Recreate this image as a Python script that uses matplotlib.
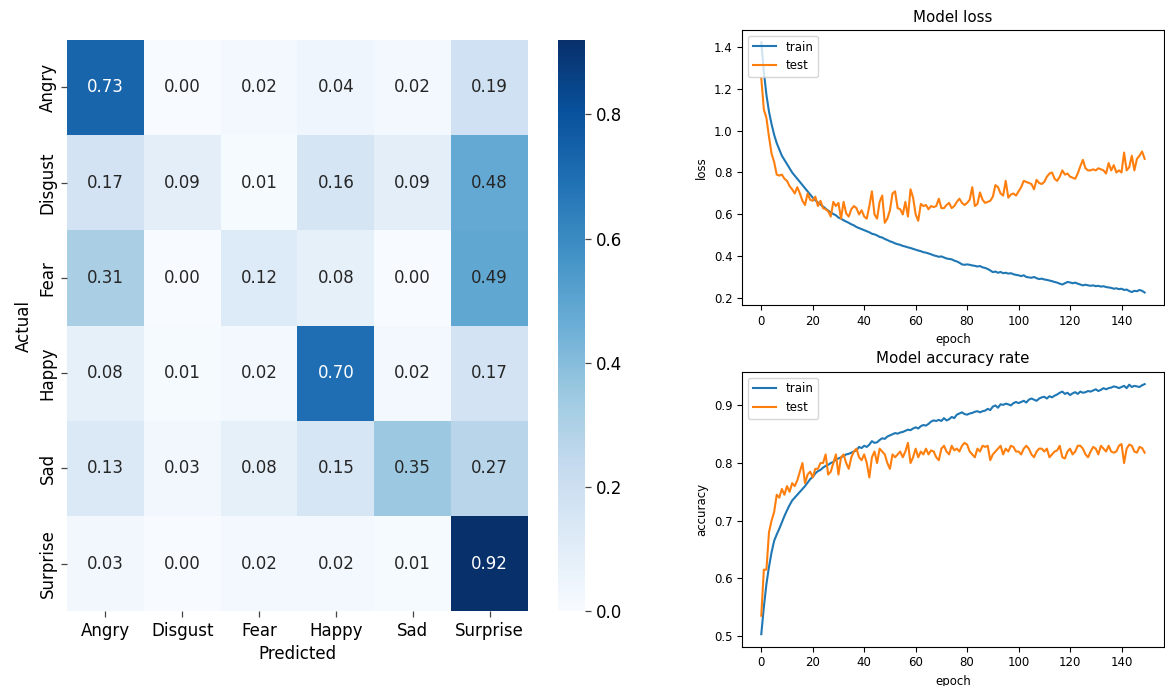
import numpy as np
import matplotlib
matplotlib.use('Agg')
import matplotlib.pyplot as plt
import seaborn as sns

classes = ['Angry', 'Disgust', 'Fear', 'Happy', 'Sad', 'Surprise']
conf = np.array([
    [0.73, 0.00, 0.02, 0.04, 0.02, 0.19],
    [0.17, 0.09, 0.01, 0.16, 0.09, 0.48],
    [0.31, 0.00, 0.12, 0.08, 0.00, 0.49],
    [0.08, 0.01, 0.02, 0.70, 0.02, 0.17],
    [0.13, 0.03, 0.08, 0.15, 0.35, 0.27],
    [0.03, 0.00, 0.02, 0.02, 0.01, 0.92],
])

# history values, one per epoch
loss_train = [
    1.42, 1.28, 1.17, 1.09, 1.03, 0.98, 0.94, 0.91, 0.88, 0.86,
    0.84, 0.82, 0.80, 0.785, 0.77, 0.755, 0.74, 0.725, 0.71, 0.695,
    0.68, 0.668, 0.657, 0.648, 0.638, 0.628, 0.618, 0.61, 0.602, 0.596,
    0.585, 0.58, 0.572, 0.566, 0.56, 0.553, 0.548, 0.54, 0.535, 0.53,
    0.525, 0.52, 0.515, 0.508, 0.505, 0.50, 0.493, 0.49, 0.483, 0.478,
    0.472, 0.468, 0.462, 0.458, 0.455, 0.45, 0.447, 0.443, 0.44, 0.436,
    0.432, 0.428, 0.425, 0.42, 0.418, 0.414, 0.41, 0.405, 0.402, 0.398,
    0.40, 0.395, 0.39, 0.388, 0.386, 0.38, 0.376, 0.37, 0.362, 0.36,
    0.362, 0.36, 0.357, 0.355, 0.352, 0.354, 0.348, 0.345, 0.34, 0.333,
    0.325, 0.328, 0.322, 0.326, 0.32, 0.322, 0.318, 0.32, 0.315, 0.312,
    0.31, 0.306, 0.31, 0.302, 0.30, 0.298, 0.302, 0.296, 0.292, 0.294,
    0.29, 0.288, 0.285, 0.282, 0.278, 0.275, 0.27, 0.266, 0.272, 0.278,
    0.276, 0.272, 0.275, 0.27, 0.266, 0.262, 0.265, 0.262, 0.26, 0.262,
    0.258, 0.26, 0.256, 0.258, 0.254, 0.252, 0.25, 0.246, 0.248, 0.244,
    0.246, 0.24, 0.242, 0.235, 0.23, 0.236, 0.234, 0.24, 0.236, 0.228,
]
loss_test = [
    1.25, 1.10, 1.06, 0.97, 0.89, 0.85, 0.79, 0.785, 0.79, 0.77,
    0.76, 0.735, 0.72, 0.70, 0.73, 0.70, 0.665, 0.645, 0.70, 0.67,
    0.665, 0.685, 0.64, 0.665, 0.63, 0.625, 0.615, 0.59, 0.66, 0.64,
    0.655, 0.58, 0.66, 0.605, 0.59, 0.625, 0.64, 0.63, 0.60, 0.62,
    0.59, 0.58, 0.64, 0.71, 0.60, 0.58, 0.66, 0.69, 0.56, 0.58,
    0.62, 0.70, 0.71, 0.63, 0.625, 0.60, 0.66, 0.59, 0.72, 0.68,
    0.60, 0.57, 0.65, 0.64, 0.645, 0.625, 0.64, 0.635, 0.64, 0.675,
    0.63, 0.63, 0.645, 0.655, 0.63, 0.64, 0.66, 0.675, 0.655, 0.645,
    0.655, 0.67, 0.73, 0.64, 0.65, 0.705, 0.67, 0.655, 0.66, 0.665,
    0.685, 0.74, 0.73, 0.70, 0.69, 0.76, 0.68, 0.695, 0.70, 0.69,
    0.71, 0.73, 0.76, 0.755, 0.75, 0.745, 0.72, 0.765, 0.75, 0.745,
    0.755, 0.78, 0.795, 0.80, 0.77, 0.76, 0.78, 0.81, 0.79, 0.795,
    0.78, 0.775, 0.77, 0.795, 0.83, 0.86, 0.82, 0.81, 0.81, 0.815,
    0.81, 0.82, 0.815, 0.81, 0.795, 0.845, 0.81, 0.835, 0.80, 0.81,
    0.80, 0.895, 0.81, 0.825, 0.88, 0.81, 0.865, 0.88, 0.90, 0.865,
]
acc_train = [
    0.503, 0.55, 0.59, 0.62, 0.645, 0.665, 0.676, 0.686, 0.697, 0.708,
    0.718, 0.727, 0.735, 0.74, 0.745, 0.75, 0.755, 0.76, 0.766, 0.772,
    0.776, 0.782, 0.786, 0.788, 0.792, 0.795, 0.797, 0.80, 0.802, 0.806,
    0.808, 0.81, 0.812, 0.815, 0.816, 0.818, 0.82, 0.822, 0.828, 0.826,
    0.83, 0.828, 0.832, 0.838, 0.835, 0.836, 0.84, 0.843, 0.842, 0.846,
    0.848, 0.85, 0.852, 0.851, 0.853, 0.854, 0.856, 0.858, 0.857, 0.86,
    0.862, 0.86, 0.864, 0.866, 0.865, 0.868, 0.872, 0.874, 0.873, 0.875,
    0.873, 0.878, 0.874, 0.876, 0.88, 0.878, 0.884, 0.886, 0.888, 0.885,
    0.884, 0.886, 0.887, 0.889, 0.89, 0.888, 0.89, 0.891, 0.894, 0.892,
    0.898, 0.90, 0.896, 0.902, 0.901, 0.903, 0.902, 0.90, 0.904, 0.906,
    0.904, 0.906, 0.908, 0.905, 0.91, 0.912, 0.91, 0.908, 0.912, 0.914,
    0.915, 0.912, 0.916, 0.914, 0.917, 0.919, 0.922, 0.924, 0.92, 0.922,
    0.918, 0.921, 0.923, 0.92, 0.924, 0.922, 0.923, 0.925, 0.924, 0.926,
    0.928, 0.925, 0.927, 0.93, 0.928, 0.93, 0.931, 0.933, 0.932, 0.93,
    0.932, 0.934, 0.93, 0.936, 0.932, 0.934, 0.933, 0.932, 0.935, 0.937,
]
acc_test = [
    0.535, 0.615, 0.615, 0.68, 0.70, 0.715, 0.745, 0.74, 0.755, 0.745,
    0.76, 0.75, 0.765, 0.76, 0.77, 0.785, 0.80, 0.765, 0.78, 0.785,
    0.775, 0.79, 0.79, 0.80, 0.80, 0.815, 0.78, 0.785, 0.80, 0.815,
    0.78, 0.81, 0.815, 0.80, 0.79, 0.81, 0.82, 0.825, 0.81, 0.805,
    0.815, 0.80, 0.775, 0.81, 0.82, 0.80, 0.825, 0.82, 0.815, 0.80,
    0.79, 0.815, 0.81, 0.815, 0.82, 0.81, 0.82, 0.835, 0.80, 0.81,
    0.825, 0.81, 0.82, 0.815, 0.825, 0.815, 0.822, 0.82, 0.81, 0.805,
    0.825, 0.83, 0.82, 0.815, 0.83, 0.822, 0.825, 0.82, 0.83, 0.835,
    0.832, 0.82, 0.815, 0.81, 0.825, 0.82, 0.83, 0.828, 0.83, 0.805,
    0.815, 0.82, 0.825, 0.83, 0.815, 0.825, 0.82, 0.83, 0.828, 0.82,
    0.82, 0.815, 0.825, 0.83, 0.825, 0.815, 0.81, 0.82, 0.825, 0.825,
    0.82, 0.825, 0.81, 0.815, 0.82, 0.822, 0.83, 0.81, 0.808, 0.82,
    0.825, 0.815, 0.82, 0.83, 0.83, 0.825, 0.815, 0.81, 0.82, 0.828,
    0.825, 0.815, 0.83, 0.825, 0.82, 0.83, 0.82, 0.818, 0.82, 0.83,
    0.833, 0.80, 0.825, 0.832, 0.83, 0.82, 0.818, 0.828, 0.826, 0.818,
]

fig = plt.figure(figsize=(11.65, 6.86), dpi=100)

# confusion matrix, drawn with plain matplotlib so tick marks stay visible
ax_cm = fig.add_axes([0.0575, 0.109, 0.3957, 0.833])
ax_cb = fig.add_axes([0.479, 0.109, 0.0235, 0.833])
cmap = plt.get_cmap('Blues')
mesh = ax_cm.pcolormesh(conf, cmap=cmap, vmin=conf.min(), vmax=conf.max())
ax_cm.set_xlim(0, conf.shape[1])
ax_cm.set_ylim(conf.shape[0], 0)
norm = mesh.norm
for i in range(conf.shape[0]):
    for j in range(conf.shape[1]):
        r, g, b, _ = cmap(norm(conf[i, j]))
        lum = 0.2126 * r + 0.7152 * g + 0.0722 * b
        ax_cm.text(j + 0.5, i + 0.5, f'{conf[i, j]:.2f}', ha='center', va='center',
                   fontsize=12, color='#262626' if lum > 0.408 else 'white')
ax_cm.set_xticks(np.arange(len(classes)) + 0.5)
ax_cm.set_yticks(np.arange(len(classes)) + 0.5)
ax_cm.set_xticklabels(classes)
ax_cm.set_yticklabels(classes, rotation=90, va='center')
for s in ax_cm.spines.values():
    s.set_visible(False)
ax_cm.set_xlabel('Predicted', fontsize=12)
ax_cm.set_ylabel('Actual', fontsize=12)
ax_cm.tick_params(axis='both', labelsize=12, length=4, width=0.9, color='#444444')

cb = fig.colorbar(mesh, cax=ax_cb)
cb.outline.set_visible(False)
cb.set_ticks([0.0, 0.2, 0.4, 0.6, 0.8])
ax_cb.tick_params(labelsize=12, length=4, width=0.9, color='#444444')

epochs = np.arange(len(loss_train))

ax1 = fig.add_axes([0.637, 0.5554, 0.362, 0.401])
ax1.plot(epochs, loss_train, label='train')
ax1.plot(epochs, loss_test, label='test')
ax1.set_title('Model loss', fontsize=10.8)
ax1.set_ylabel('loss', fontsize=8.5)
ax1.set_xlabel('epoch', fontsize=8.5)
ax1.tick_params(labelsize=8.5)
ax1.legend(loc='upper left', fontsize=8.5)

ax2 = fig.add_axes([0.637, 0.0573, 0.362, 0.401])
ax2.plot(epochs, acc_train, label='train')
ax2.plot(epochs, acc_test, label='test')
ax2.set_title('Model accuracy rate', fontsize=10.8)
ax2.set_ylabel('accuracy', fontsize=8.5)
ax2.set_xlabel('epoch', fontsize=8.5)
ax2.tick_params(labelsize=8.5)
ax2.legend(loc='upper left', fontsize=8.5)

fig.savefig('out.png', dpi=100)
